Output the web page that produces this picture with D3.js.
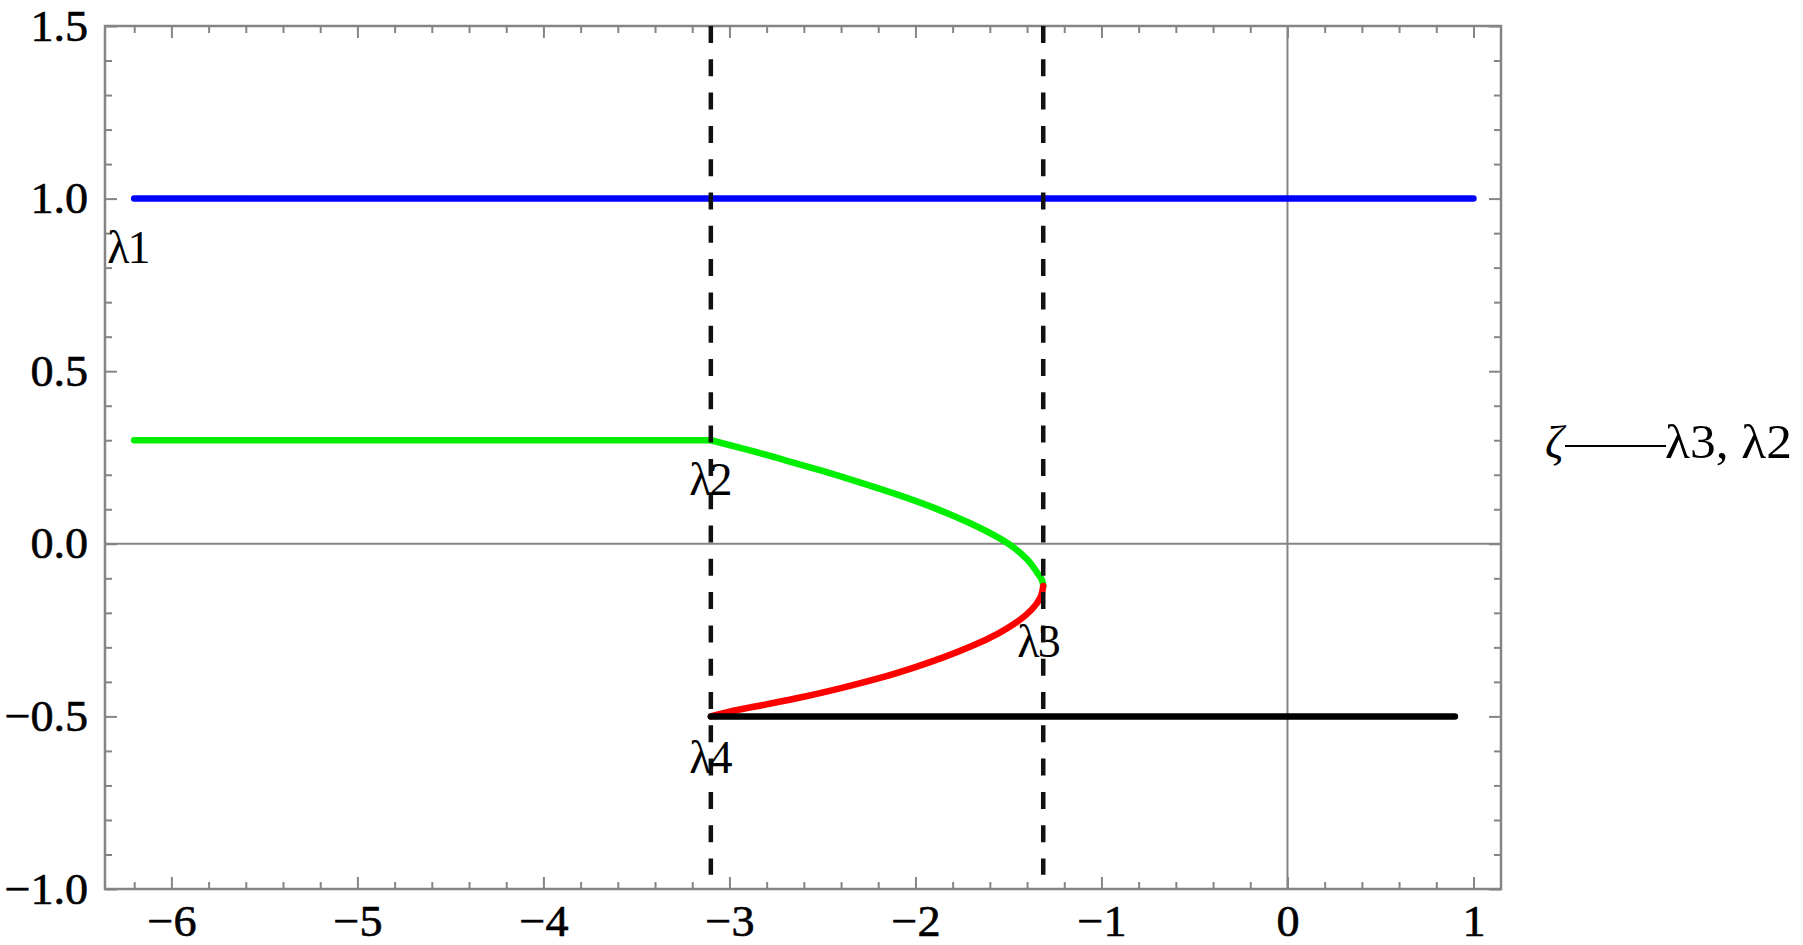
<!DOCTYPE html>
<meta charset="utf-8">
<script src="https://d3js.org/d3.v7.min.js"></script>
<style>
  body { margin: 0; background: #fff; }
  text { font-family: "Liberation Serif", "Times New Roman", serif; fill: #000; }
</style>
<div id="chart"></div>
<script>
// values
var xTicks = [-6, -5, -4, -3, -2, -1, 0, 1];
var yTicks = [-1.0, -0.5, 0.0, 0.5, 1.0, 1.5];

// lambda1: blue branch
var blueLine = [[-6.2, 1.0], [1.0, 1.0]];
// lambda2: green branch (flat, then bending down to the turning point)
var greenLine = [[-6.2, 0.300], [-3.10, 0.300], [-2.90, 0.272], [-2.70, 0.242], [-2.50, 0.211],
  [-2.30, 0.178], [-2.10, 0.143], [-1.90, 0.104], [-1.70, 0.058], [-1.50, 0.000],
  [-1.40, -0.045], [-1.345, -0.084], [-1.320, -0.105], [-1.313, -0.122]];
// lambda3: red branch, from the turning point back to lambda4
var redLine = [[-1.313, -0.122], [-1.328, -0.155], [-1.374, -0.190], [-1.45, -0.225], [-1.556, -0.260],
  [-1.70, -0.297], [-1.85, -0.329], [-2.00, -0.357], [-2.20, -0.390], [-2.40, -0.418],
  [-2.60, -0.443], [-2.80, -0.465], [-3.00, -0.486], [-3.10, -0.500]];
// lambda4: black branch
var blackLine = [[-3.1, -0.5], [0.9, -0.5]];
// dashed verticals
var dashX = [-3.1, -1.313];
var dashY = [1.5, -0.959];
// point labels
var labelText = ["λ1", "λ2", "λ3", "λ4"];
var labelX = [-6.234, -3.105, -1.341, -3.105];
var labelY = [0.813, 0.141, -0.328, -0.664];

var W = 1803, H = 945;
var gray = "#858585";
var svg = d3.select("#chart").append("svg")
  .attr("width", W).attr("height", H)
  .style("background", "#fff");

var x = d3.scaleLinear().domain([-6.357, 1.148]).range([105, 1501]);
var y = d3.scaleLinear().domain([-1, 1.5]).range([889, 26]);

// zero axes
svg.append("line").attr("x1", x(0)).attr("x2", x(0)).attr("y1", y(1.5)).attr("y2", y(-1))
  .attr("stroke", gray).attr("stroke-width", 2);
svg.append("line").attr("x1", x.range()[0]).attr("x2", x.range()[1]).attr("y1", y(0)).attr("y2", y(0))
  .attr("stroke", gray).attr("stroke-width", 2);

function tickRow(axis, tr, values, size, fmt, pad) {
  var g = svg.append("g").attr("transform", tr)
    .call(axis.tickValues(values).tickSize(-size).tickSizeOuter(0)
      .tickPadding(pad || 0).tickFormat(fmt || function() { return ""; }));
  g.select(".domain").remove();
  g.selectAll("line").attr("stroke", gray).attr("stroke-width", 2);
  g.selectAll("text").style("font-size", "44px").attr("fill", "#000")
    .attr("stroke", "#000").attr("stroke-width", 0.6)
    .attr("transform", "scale(1.05,1)");
  return g;
}

var xMinor = d3.range(-31, 6).filter(function(i) { return i % 5 !== 0; }).map(function(i) { return i / 5; });
var yMinor = d3.range(-10, 16).filter(function(i) { return i % 5 !== 0; }).map(function(i) { return i / 10; });
var fx = function(d) { return d < 0 ? "\u2212" + Math.abs(d) : String(d); };
var fy = function(d) { return (d < 0 ? "\u2212" : "") + Math.abs(d).toFixed(1); };

// bottom & top
tickRow(d3.axisBottom(x), "translate(0," + y(-1) + ")", xTicks, 12, fx, 16);
tickRow(d3.axisBottom(x), "translate(0," + y(-1) + ")", xMinor, 7);
tickRow(d3.axisTop(x), "translate(0," + y(1.5) + ")", xTicks, 12);
tickRow(d3.axisTop(x), "translate(0," + y(1.5) + ")", xMinor, 7);
// left & right
tickRow(d3.axisLeft(y), "translate(" + x.range()[0] + ",0)", yTicks, 12, fy, 16);
tickRow(d3.axisLeft(y), "translate(" + x.range()[0] + ",0)", yMinor, 7);
tickRow(d3.axisRight(y), "translate(" + x.range()[1] + ",0)", yTicks, 12);
tickRow(d3.axisRight(y), "translate(" + x.range()[1] + ",0)", yMinor, 7);

// frame
svg.append("rect")
  .attr("x", x.range()[0]).attr("y", y.range()[1])
  .attr("width", x.range()[1] - x.range()[0]).attr("height", y.range()[0] - y.range()[1])
  .attr("fill", "none").attr("stroke", gray).attr("stroke-width", 2.5);

// curves: straight pieces linear, bent pieces smoothed
var straight = d3.line().x(function(d) { return x(d[0]); }).y(function(d) { return y(d[1]); });
var bent = d3.line().x(function(d) { return x(d[0]); }).y(function(d) { return y(d[1]); })
  .curve(d3.curveMonotoneY);
var pieces = [
  [blueLine, "#0000ff", straight],
  [greenLine.slice(0, 2), "#00ee00", straight],
  [greenLine.slice(1), "#00ee00", bent],
  [redLine, "#ff0000", bent],
  [blackLine, "#000", straight]
];
pieces.forEach(function(s) {
  svg.append("path").datum(s[0]).attr("d", s[2])
    .attr("fill", "none").attr("stroke", s[1]).attr("stroke-width", 6.5)
    .attr("stroke-linecap", "round").attr("stroke-linejoin", "round");
});

// dashed lines
svg.selectAll(".dash").data(dashX).enter().append("line")
  .attr("class", "dash")
  .attr("x1", function(d) { return x(d); }).attr("x2", function(d) { return x(d); })
  .attr("y1", y(dashY[0])).attr("y2", y(dashY[1]))
  .attr("stroke", "#111").attr("stroke-width", 4.5)
  .attr("stroke-dasharray", "17,16.3");

// lambda labels
svg.selectAll(".lab").data(labelText).enter().append("text")
  .attr("class", "lab")
  .attr("x", function(d, i) { return x(labelX[i]); })
  .attr("y", function(d, i) { return y(labelY[i]); })
  .attr("text-anchor", "middle")
  .style("font-size", "46px").style("letter-spacing", "-2px")
  .text(function(d) { return d; });

// right-hand note
svg.append("text").attr("x", 1545).attr("y", 458)
  .style("font-size", "46px").style("font-style", "italic").text("ζ");
svg.append("line").attr("x1", 1565).attr("x2", 1666).attr("y1", 446).attr("y2", 446)
  .attr("stroke", "#000").attr("stroke-width", 2);
svg.append("text").attr("x", 1665).attr("y", 458)
  .attr("textLength", 127).attr("lengthAdjust", "spacingAndGlyphs")
  .style("font-size", "48px").text("λ3, λ2");
</script>
